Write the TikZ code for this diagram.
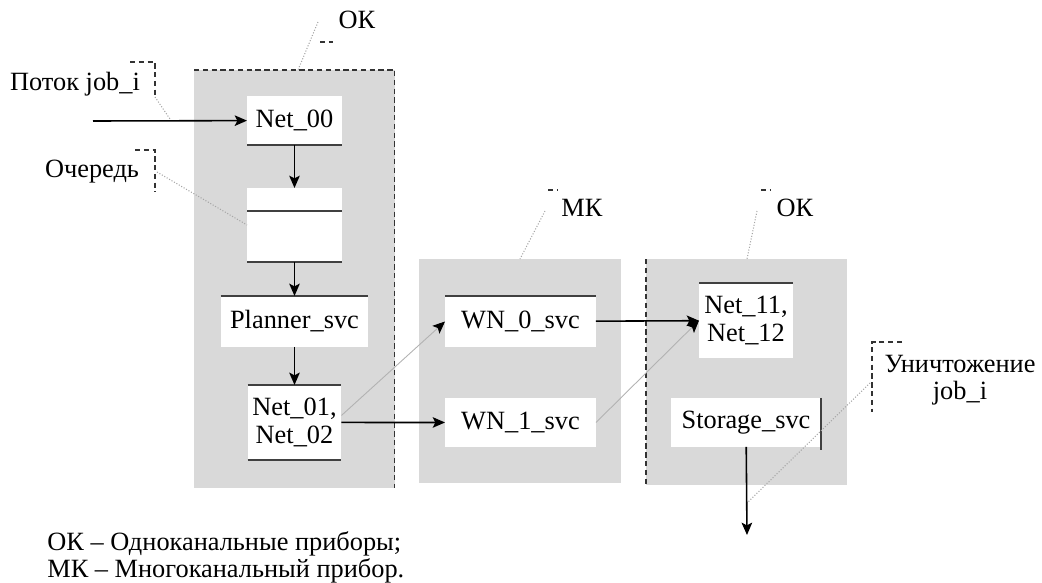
\documentclass[tikz,border=0pt]{standalone}
\usepackage{fontspec}
\setmainfont{Liberation Serif}
\usepackage{tikz}
\usetikzlibrary{arrows.meta, positioning}
\tikzset{
  grp/.style={rectangle, fill=gray!30, draw=none, anchor=north west,
              inner sep=0pt, outer sep=0pt},
  svc/.style={rectangle, fill=white, draw=none, align=center,
              inner sep=0pt, outer sep=0pt, font=\fontsize{15}{16}\selectfont},
  txt/.style={align=center, inner sep=0pt, font=\fontsize{15}{15.5}\selectfont},
  arr/.style={-{Stealth[length=7pt, width=6pt, inset=1.5pt]}, line width=0.9pt},
  garr/.style={-{Stealth[length=7pt, width=6pt, inset=1.5pt, color=black]},
               line width=0.5pt, draw=gray!60},
  rim/.style={line width=0.8pt, draw=gray!50!black},
  brd/.style={densely dashed, line width=0.6pt, draw=gray!40!black},
  lead/.style={densely dotted, line width=0.6pt, draw=gray!70},
}
\begin{document}
\begin{tikzpicture}[x=0.02cm, y=-0.02cm]
  \useasboundingbox (0,0) rectangle (1042,582);
  \node[grp, minimum width=4.02cm, minimum height=8.36cm] (OK1) at (194,70) {};
  \node[grp, minimum width=4.04cm, minimum height=4.48cm] (MK) at (419,259) {};
  \node[grp, minimum width=4.02cm, minimum height=4.52cm] (OK2) at (646,259) {};
  \draw[brd] (OK1.north west) -- (OK1.north east) -- (OK1.south east);
  \draw[brd] (OK2.north west) -- (OK2.south west);

  \node[svc, minimum width=1.9cm, minimum height=0.98cm] (Net00) at (294.5,120.5) {Net\_00};
  \node[svc, minimum width=1.9cm, minimum height=1.48cm, below=0.86cm of Net00] (Q) {};
  \node[svc, minimum width=2.96cm, minimum height=1.02cm, below=0.68cm of Q] (Plan) {Planner\_svc};
  \node[svc, minimum width=1.88cm, minimum height=1.5cm, below=0.76cm of Plan] (Net01) {Net\_01,\\Net\_02};
  \node[svc, minimum width=3.02cm, minimum height=1.02cm] (WN0) at (520.5,321.5) {WN\_0\_svc};
  \node[svc, minimum width=3.02cm, minimum height=0.98cm, below=1.02cm of WN0] (WN1) {WN\_1\_svc};
  \node[svc, minimum width=1.88cm, minimum height=1.5cm] (Net11) at (746,320.5) {Net\_11,\\Net\_12};
  \node[svc, minimum width=3.0cm, minimum height=0.98cm, below=0.8cm of Net11] (Stor) {Storage\_svc};

  \draw[rim] (Net00.south west) -- (Net00.south east);
  \draw[rim] ([yshift=-0.46cm]Q.north west) -- ([yshift=-0.46cm]Q.north east);
  \draw[rim] (Q.south west) -- (Q.south east);
  \draw[rim] (Plan.north west) -- (Plan.north east);
  \draw[rim] (Net01.north west) -- (Net01.north east);
  \draw[rim, line width=1.4pt] (Net01.south west) -- (Net01.south east);
  \draw[rim] (WN0.north west) -- (WN0.north east);
  \draw[rim] (Net11.north west) -- (Net11.north east);
  \draw[rim, line width=1.4pt] (Stor.north east) -- ([yshift=-0.06cm]Stor.south east);

  \coordinate (src) at (93,121);
  \coordinate (sink) at (747,535);
  \foreach \a/\b in {src/Net00,Net00/Q,Q/Plan,Plan/Net01,Net01/WN1,WN0/Net11,Stor/sink}
    \draw[arr] (\a) -- (\b);
  \draw[garr] ([yshift=0.14cm]Net01.east) -- (WN0.west);
  \draw[garr] (WN1.east) -- (Net11.west);

  \node[txt] (okA) at (357,20) {ОК};
  \node[txt] (flow) at (75,84) {Поток job\_i};
  \node[txt] (queue) at (92,172) {Очередь};
  \node[txt] (mk) at (582,208) {МК};
  \node[txt] (okB) at (795,208) {ОК};
  \node[txt] (kill) at (960,380) {Уничтожение\\job\_i};
  \node[txt, align=left, anchor=west] (legend) at (47,557)
    {ОК – Одноканальные приборы;\\МК – Многоканальный прибор.};

  \draw[brd] (130,62) -- (155,62) -- (155,97);
  \draw[lead] (155,97) -- (170,119);
  \draw[brd] (135,150) -- (155,150) -- (155,192);
  \draw[lead] (157,172) -- (Q.west);
  \draw[brd] (320,42) -- (333,42);
  \draw[lead] (318,22) -- (298,70);
  \draw[brd] (548,190) -- (558,190);
  \draw[lead] (545,211) -- (520,259);
  \draw[brd] (761,190) -- (771,190);
  \draw[lead] (757,211) -- (747,259);
  \draw[brd] (902,342) -- (872,342) -- (872,412);
  \draw[lead] (870,383) -- (748,502);
\end{tikzpicture}
\end{document}
